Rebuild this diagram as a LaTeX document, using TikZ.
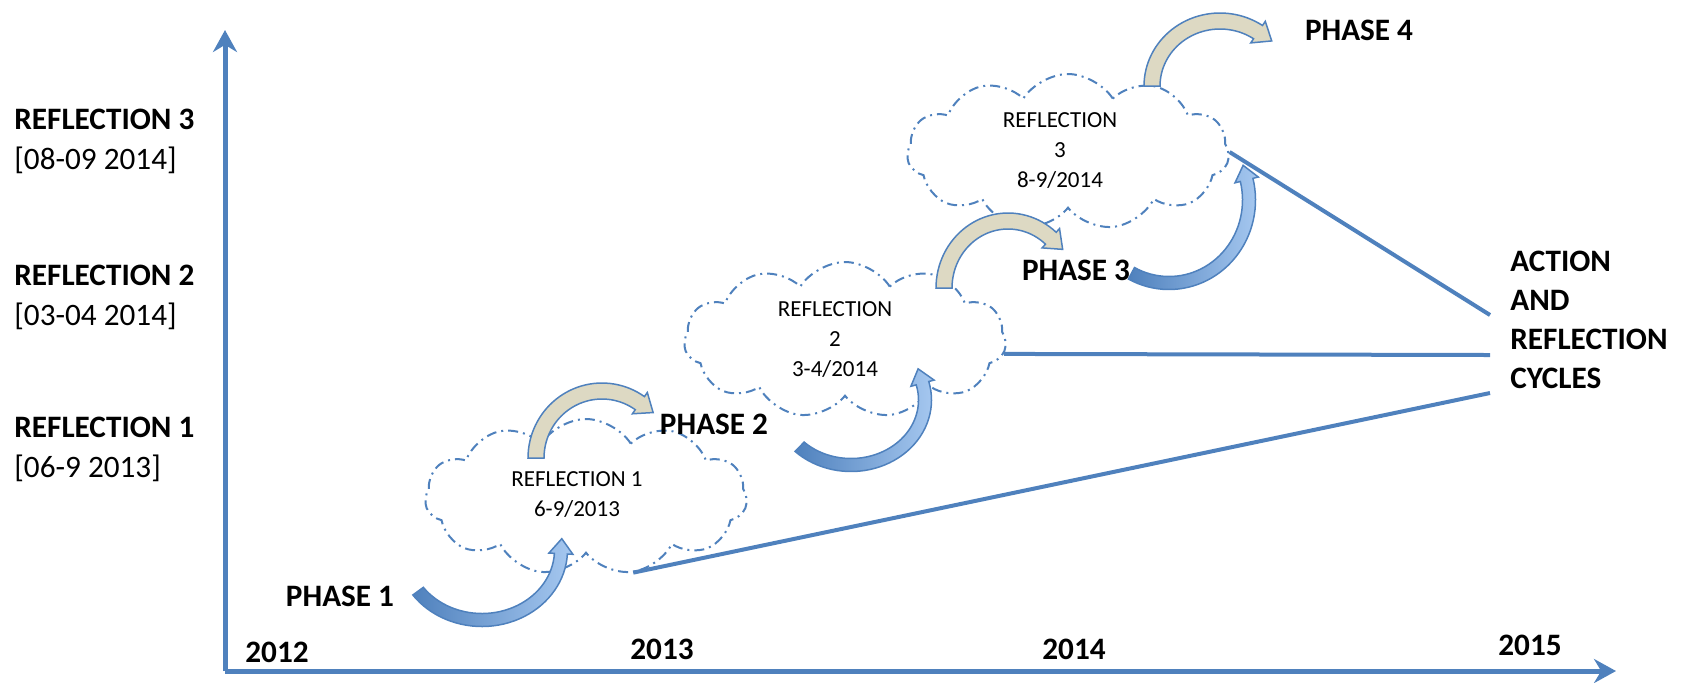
\documentclass[tikz,border=0pt]{standalone}
\usepackage{fontspec}
\setmainfont{Carlito}
\usetikzlibrary{shapes.symbols,arrows.meta}

\definecolor{lineblue}{RGB}{79,129,189}
\definecolor{lightblue}{RGB}{166,200,240}
\definecolor{beige}{RGB}{221,217,195}

% curved block arrow along an ellipse: [style]{cx}{cy}{rx}{ry}{from}{to}{half width}{head half width}
\newcommand{\bentarrow}[9][]{%
    \pgfmathsetmacro{\sg}{(#7>#6) ? 1 : -1}%
    \pgfmathsetmacro{\tx}{-\sg*#4*sin(#7)}%
    \pgfmathsetmacro{\ty}{-\sg*#5*cos(#7)}%
    \pgfmathsetmacro{\tn}{veclen(\tx,\ty)}%
    \pgfmathsetmacro{\hl}{1.25*#9}%
    \path[#1] plot[domain=#6:#7, samples=40, variable=\angl] ({#2+(#4+#8)*cos(\angl)},{#3-(#5+#8)*sin(\angl)})
        -- ({#2+(#4+#9)*cos(#7)},{#3-(#5+#9)*sin(#7)})
        -- ({#2+#4*cos(#7)+\hl*\tx/\tn},{#3-#5*sin(#7)+\hl*\ty/\tn})
        -- ({#2+(#4-#9)*cos(#7)},{#3-(#5-#9)*sin(#7)})
        -- plot[domain=#7:#6, samples=40, variable=\angl] ({#2+(#4-#8)*cos(\angl)},{#3-(#5-#8)*sin(\angl)})
        -- cycle;
}

\begin{document}
\begin{tikzpicture}[x=0.5pt, y=-0.5pt,
    axis/.style={draw=lineblue, line width=2.5pt, -{Stealth[length=11pt, width=12pt]}},
    ray/.style={draw=lineblue, line width=2pt},
    refl/.style={cloud, cloud puffs=11, cloud puff arc=115, cloud ignores aspect,
        draw=lineblue, line width=1pt, dash pattern=on 5pt off 2.5pt on 1pt off 2.5pt,
        minimum width=161pt, minimum height=78pt, inner sep=0pt},
    refltext/.style={align=center, inner sep=0pt, font=\fontsize{11.5}{15}\selectfont},
    biglabel/.style={inner sep=0pt, font=\fontsize{15.6}{19.5}\selectfont\bfseries},
    datelabel/.style={inner sep=0pt, align=left, anchor=west, font=\fontsize{15.6}{20}\selectfont},
    actarrow/.style={draw=lineblue, line width=0.75pt, left color=lineblue, right color=lightblue},
    reflarrow/.style={draw=lineblue, line width=0.75pt, fill=beige}]

    \useasboundingbox (0,0) rectangle (1684,682);

    % axes
    \coordinate (origin) at (225,671);
    \coordinate (ytop) at (225,30);
    \coordinate (xend) at (1616,671);
    \draw[axis] (origin) -- (ytop);
    \draw[axis] (origin) -- (xend);

    % reflections
    \node[refl] (cl1) at (586,497) {};
    \node[refl] (cl2) at (845,340) {};
    \node[refl] (cl3) at (1068,152) {};
    \node[refltext] (t1) at (577,495) {REFLECTION 1\\6-9/2013};
    \node[refltext] (t2) at (835,340) {REFLECTION\\2\\3-4/2014};
    \node[refltext] (t3) at (1060,151) {REFLECTION\\3\\8-9/2014};

    % left scale
    \node[datelabel] (r3) at (14,141) {\textbf{REFLECTION 3}\\{}[08-09 2014]};
    \node[datelabel] (r2) at (14,297) {\textbf{REFLECTION 2}\\{}[03-04 2014]};
    \node[datelabel] (r1) at (14,449) {\textbf{REFLECTION 1}\\{}[06-9 2013]};

    % years
    \node[biglabel] (y12) at (277,652) {2012};
    \node[biglabel] (y13) at (662,649) {2013};
    \node[biglabel] (y14) at (1074,649) {2014};
    \node[biglabel] (y15) at (1530,645) {2015};

    % phases
    \node[biglabel] (ph1) at (340,596) {PHASE 1};
    \node[biglabel] (ph2) at (714,424) {PHASE 2};
    \node[biglabel] (ph3) at (1076,270) {PHASE 3};
    \node[biglabel] (ph4) at (1359,30) {PHASE 4};

    \node[biglabel, align=left, anchor=west] (cyc) at (1510,320) {ACTION\\AND\\REFLECTION\\CYCLES};

    % rays to the cycles label
    \coordinate (act1) at (1490,393);
    \coordinate (act2) at (1490,355);
    \coordinate (act3) at (1490,315);
    \draw[ray] (cl1.-58) -- (act1);
    \draw[ray] (cl2.-5) -- (act2);
    \draw[ray] (cl3.east) -- (act3);

    % action arrows
    \bentarrow[actarrow]{482}{550}{79}{70}{216}{357}{6.5}{12}
    \bentarrow[actarrow]{851}{400}{74}{65}{226}{375}{6.5}{12}
    \bentarrow[actarrow]{1169}{200}{80}{83}{242}{374}{6.5}{12}

    % arrows into the next phase
    \bentarrow[reflarrow]{602}{458}{66}{67}{180}{55}{8}{13}
    \bentarrow[reflarrow]{1008}{288}{64}{67}{180}{48}{8}{13}
    \bentarrow[reflarrow]{1220}{86}{68}{65}{180}{56}{8}{13}
\end{tikzpicture}
\end{document}
